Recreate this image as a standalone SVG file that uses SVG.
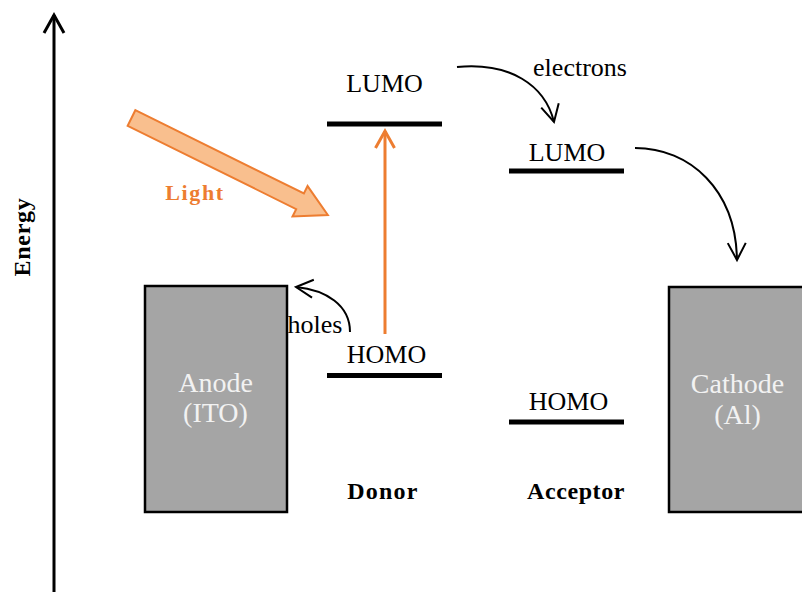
<svg xmlns="http://www.w3.org/2000/svg" width="802" height="592" viewBox="0 0 802 592">
<style>
  text { font-family: "Liberation Serif", "Times New Roman", serif; fill: #000; }
  .lbl { font-size: 26px; text-anchor: middle; }
  .bold { font-size: 24px; font-weight: bold; text-anchor: middle; }
  .electrode { fill: #a5a5a5; stroke: #000; stroke-width: 2.5; }
  .etext { font-size: 28px; fill: #f2f2f2; text-anchor: middle; }
  .level { stroke: #000; stroke-width: 5; }
  .curve { fill: none; stroke: #000; stroke-width: 2; marker-end: url(#open); }
</style>
<defs>
  <marker id="open" markerUnits="userSpaceOnUse" viewBox="-20 -12 24 24" markerWidth="24" markerHeight="24" refX="0" refY="0" orient="auto" overflow="visible">
    <path d="M-17,-9 L0,0 L-17,9" fill="none" stroke="#000" stroke-width="2" stroke-linejoin="miter"/>
  </marker>
  <marker id="openOrange" markerUnits="userSpaceOnUse" viewBox="-20 -12 24 24" markerWidth="24" markerHeight="24" refX="0" refY="0" orient="auto" overflow="visible">
    <path d="M-17,-9.5 L0,0 L-17,9.5" fill="none" stroke="#ed7d31" stroke-width="3"/>
  </marker>
  <marker id="openAxis" markerUnits="userSpaceOnUse" viewBox="-22 -12 26 24" markerWidth="26" markerHeight="24" refX="0" refY="0" orient="auto" overflow="visible">
    <path d="M-18,-10 L0,0 L-18,10" fill="none" stroke="#000" stroke-width="3"/>
  </marker>
</defs>

<g id="axis">
  <line x1="54" y1="592" x2="54" y2="15" stroke="#000" stroke-width="3" marker-end="url(#openAxis)"/>
  <text class="bold" transform="translate(29.5,237) rotate(-90)" x="0" y="0" letter-spacing="0.7">Energy</text>
</g>

<g id="anode">
  <rect class="electrode" x="145" y="286" width="142" height="226"/>
  <text class="etext" x="215.5" y="392">Anode</text>
  <text class="etext" x="215.5" y="422">(ITO)</text>
</g>

<g id="cathode">
  <rect class="electrode" x="669" y="287" width="150" height="225"/>
  <text class="etext" x="737.5" y="393">Cathode</text>
  <text class="etext" x="737.5" y="424">(Al)</text>
</g>

<g id="donor-lumo">
  <line class="level" x1="327" y1="124" x2="442" y2="124"/>
  <text class="lbl" x="384.5" y="92">LUMO</text>
</g>

<g id="donor-homo">
  <line class="level" x1="327" y1="375.5" x2="442" y2="375.5"/>
  <text class="lbl" x="386.5" y="363">HOMO</text>
</g>

<g id="acceptor-lumo">
  <line class="level" x1="509" y1="171" x2="624" y2="171"/>
  <text class="lbl" x="567" y="161">LUMO</text>
</g>

<g id="acceptor-homo">
  <line class="level" x1="509" y1="422" x2="624" y2="422"/>
  <text class="lbl" x="568.5" y="410">HOMO</text>
</g>

<g id="donor-label">
  <text class="bold" x="383" y="499" letter-spacing="1.2">Donor</text>
</g>
<g id="acceptor-label">
  <text class="bold" x="576" y="499" letter-spacing="0.6">Acceptor</text>
</g>

<g id="light">
  <polygon transform="translate(131.5,118) rotate(26.3)" points="0,-8.7 188,-8.7 188,-17 219,0 188,17 188,8.7 0,8.7" fill="#f9bf8e" stroke="#ed7d31" stroke-width="2" stroke-linejoin="miter"/>
  <text x="195" y="200" font-size="22" font-weight="bold" fill="#ed7d31" style="fill:#ed7d31" text-anchor="middle" letter-spacing="1.6">Light</text>
</g>

<g id="connectors">
  <line x1="385" y1="334" x2="385" y2="131" stroke="#ed7d31" stroke-width="3" marker-end="url(#openOrange)"/>
  <path class="curve" d="M457,67 C510,62 545,85 554,122"/>
  <path class="curve" d="M635,148 C690,148 736,190 737,260"/>
  <path class="curve" d="M350,332 C350,305 326,290 296,287"/>
  <text class="lbl" x="580" y="76">electrons</text>
  <text class="lbl" x="315" y="333">holes</text>
</g>
</svg>
